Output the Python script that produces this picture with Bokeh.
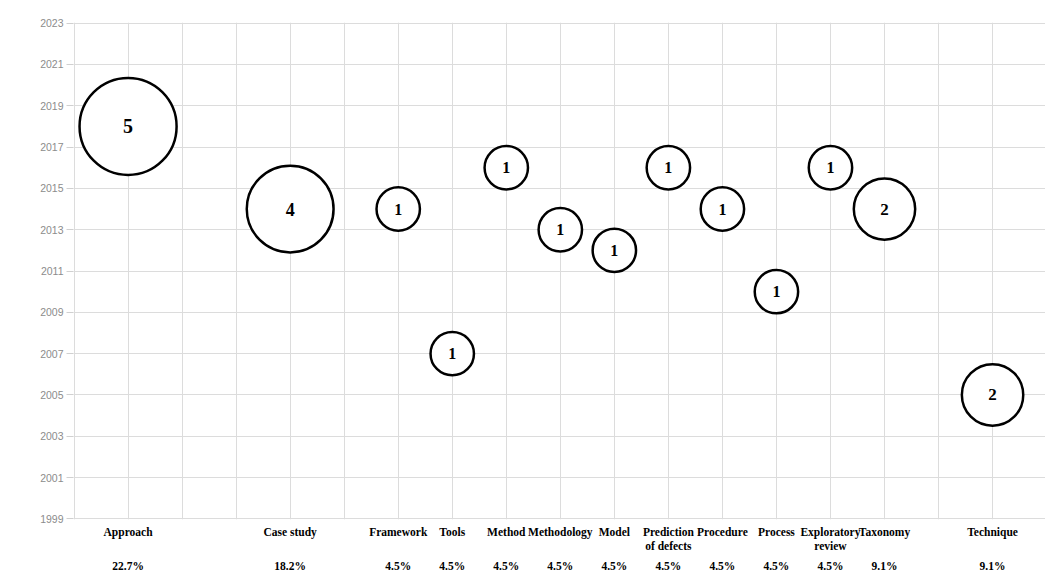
from bokeh.plotting import figure
from bokeh.models import FixedTicker, Range1d, ColumnDataSource, LinearAxis
from bokeh.core.properties import value
from bokeh.embed import file_html
from bokeh.resources import INLINE

# ---- data ----
categories = ["Approach", "Case study", "Framework", "Tools", "Method", "Methodology",
              "Model", "Prediction\nof defects", "Procedure", "Process",
              "Exploratory\nreview", "Taxonomy", "Technique"]
x_slot = [1, 4, 6, 7, 8, 9, 10, 11, 12, 13, 14, 15, 17]
years = [2018, 2014, 2014, 2007, 2016, 2013, 2012, 2016, 2014, 2010, 2016, 2014, 2005]
counts = [5, 4, 1, 1, 1, 1, 1, 1, 1, 1, 1, 2, 2]
percents = ["22.7%", "18.2%", "4.5%", "4.5%", "4.5%", "4.5%", "4.5%", "4.5%",
            "4.5%", "4.5%", "4.5%", "9.1%", "9.1%"]
year_ticks = list(range(1999, 2024, 2))

# ---- styling derived from data ----
font_by_count = {1: "16px", 2: "17px", 4: "18px", 5: "20px"}
src = ColumnDataSource(dict(
    x=x_slot, y=years, n=[str(c) for c in counts],
    d=[2 * 21.7 * (c ** 0.5) for c in counts],
    fs=[font_by_count[c] for c in counts],
))

p = figure(width=1045, height=580, output_backend="svg", toolbar_location=None,
           x_range=Range1d(-0.01, 17.98), y_range=Range1d(1998.97, 2023.03),
           min_border_left=73, min_border_right=0, min_border_top=22, min_border_bottom=61)
p.outline_line_color = None
p.background_fill_color = "white"
p.border_fill_color = "white"

# grid
p.xgrid.ticker = FixedTicker(ticks=list(range(0, 19)))
p.xgrid.grid_line_color = "#dcdcdc"
p.ygrid.grid_line_color = "#dcdcdc"

# y axis
p.yaxis.ticker = FixedTicker(ticks=year_ticks)
p.yaxis.axis_line_color = None
p.yaxis.major_tick_line_color = "#d0d0d0"
p.yaxis.major_tick_out = 7
p.yaxis.major_tick_in = 0
p.yaxis.minor_tick_line_color = None
p.yaxis.major_label_text_color = "#8c8c8c"
p.yaxis.major_label_text_font = "Liberation Sans"
p.yaxis.major_label_text_font_size = "10.5px"
p.yaxis.major_label_standoff = 3


def style_x(ax, standoff):
    ax.ticker = FixedTicker(ticks=x_slot)
    ax.axis_line_color = None
    ax.major_tick_line_color = None
    ax.major_tick_out = 0
    ax.major_tick_in = 0
    ax.minor_tick_line_color = None
    ax.major_label_text_font = "Liberation Serif"
    ax.major_label_text_font_style = "bold"
    ax.major_label_text_font_size = "11.5px"
    ax.major_label_text_color = "black"
    ax.major_label_standoff = standoff


# category names
style_x(p.xaxis[0], 6)
p.xaxis[0].major_label_overrides = {xs: cat for xs, cat in zip(x_slot, categories)}

# percentages
pct_axis = LinearAxis()
style_x(pct_axis, 5)
pct_axis.major_label_overrides = {xs: pct for xs, pct in zip(x_slot, percents)}
p.add_layout(pct_axis, "below")

# bubbles
p.scatter("x", "y", size="d", source=src, fill_color="white",
          line_color="black", line_width=2.5)
p.text("x", "y", text="n", source=src, text_font=value("Liberation Serif"),
       text_font_style="bold", text_font_size="fs", text_align="center",
       text_baseline="middle", text_color="black")

open("out.html", "w").write(file_html(p, INLINE))
